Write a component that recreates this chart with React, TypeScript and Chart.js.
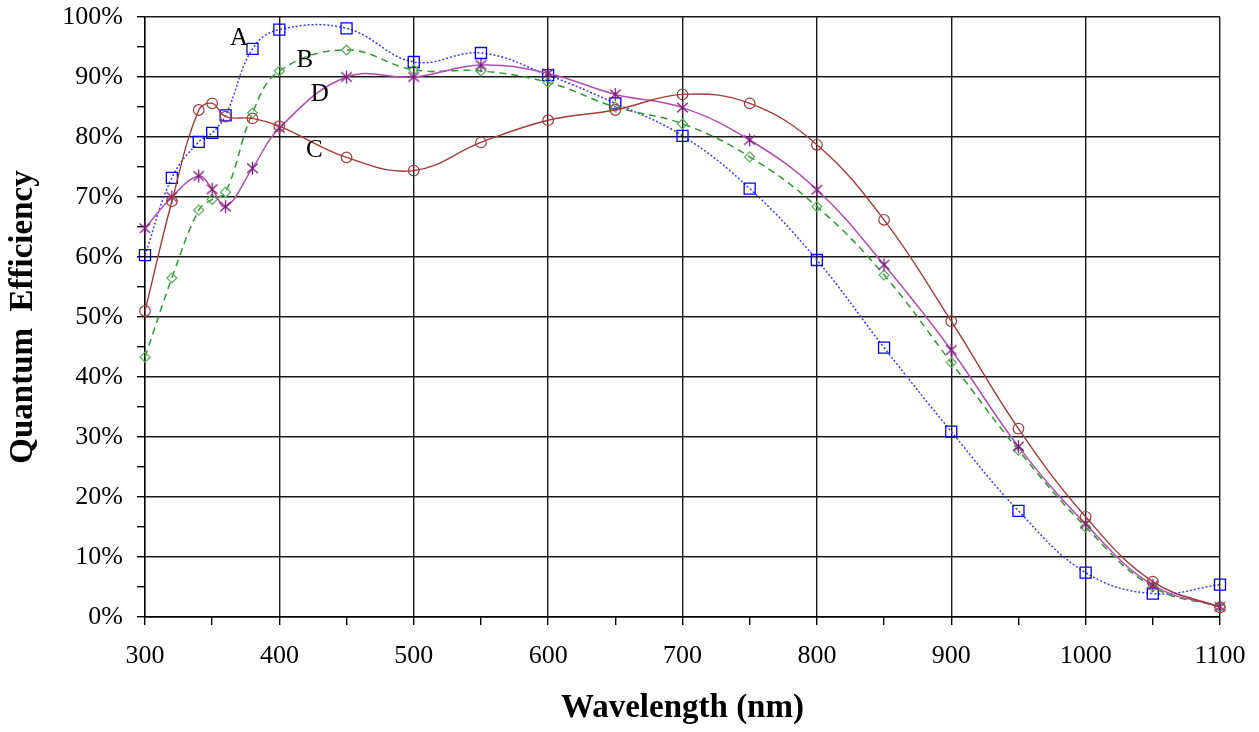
import React, { useEffect, useRef } from 'react';
import { Chart, registerables } from 'chart.js';

Chart.register(...registerables);

const wavelengths = [300, 320, 340, 350, 360, 380, 400, 450, 500, 550, 600, 650, 700, 750, 800, 850, 900, 950, 1000, 1050, 1100];
const seriesA = [60.3, 73.2, 79.2, 80.7, 83.6, 94.7, 97.9, 98.1, 92.5, 94.0, 90.3, 85.6, 80.2, 71.4, 59.5, 44.9, 30.9, 17.7, 7.4, 3.9, 5.4];
const seriesB = [43.3, 56.5, 67.8, 69.6, 70.8, 84.0, 91.0, 94.5, 91.2, 91.0, 89.1, 85.0, 82.2, 76.7, 68.4, 57.0, 42.4, 27.8, 15.0, 5.0, 1.7];
const seriesC = [51.0, 69.3, 84.5, 85.6, 83.4, 83.1, 81.8, 76.6, 74.4, 79.1, 82.8, 84.5, 87.1, 85.6, 78.7, 66.2, 49.3, 31.4, 16.7, 5.9, 1.6];
const seriesD = [64.8, 70.0, 73.5, 71.3, 68.4, 74.8, 81.5, 90.0, 90.0, 92.0, 90.6, 87.1, 84.9, 79.5, 71.2, 58.7, 44.5, 28.4, 15.5, 5.3, 1.7];

const labelNames = ['A', 'B', 'C', 'D'];
const labelX = [370, 419, 426, 430];
const labelY = [96.5, 92.7, 77.7, 87.1];

const xTitle = 'Wavelength (nm)';
const yTitle = 'Quantum  Efficiency';

const toPoints = (ys: number[]) => wavelengths.map((x, i) => ({ x, y: ys[i] }));

function makeAsterisk(color: string): HTMLCanvasElement {
  const c = document.createElement('canvas');
  c.width = 15;
  c.height = 15;
  const g = c.getContext('2d')!;
  g.strokeStyle = color;
  g.lineWidth = 1.3;
  g.beginPath();
  g.moveTo(7.5, 1);
  g.lineTo(7.5, 14);
  g.moveTo(2.2, 2.8);
  g.lineTo(12.8, 12.2);
  g.moveTo(12.8, 2.8);
  g.lineTo(2.2, 12.2);
  g.stroke();
  return c;
}

const curveLabels = {
  id: 'curveLabels',
  afterDatasetsDraw(chart: any) {
    const { ctx, scales } = chart;
    ctx.save();
    ctx.font = '25px "Liberation Serif", serif';
    ctx.fillStyle = '#000';
    ctx.textAlign = 'center';
    ctx.textBaseline = 'middle';
    labelNames.forEach((n, i) => {
      ctx.fillText(n, scales.x.getPixelForValue(labelX[i]), scales.y.getPixelForValue(labelY[i]));
    });
    ctx.restore();
  },
};

export default function App() {
  const ref = useRef<HTMLCanvasElement>(null);
  useEffect(() => {
    if (!ref.current) return;
    const serif = '"Liberation Serif", "Times New Roman", serif';
    const chart = new Chart(ref.current, {
      type: 'line',
      data: {
        datasets: [
          {
            label: 'C',
            data: toPoints(seriesC),
            borderColor: '#a33a3a',
            backgroundColor: 'transparent',
            borderWidth: 1.4,
            pointStyle: 'circle',
            pointRadius: 5.3,
            pointBorderColor: '#a33a3a',
            pointBorderWidth: 1.2,
            tension: 0.4,
            clip: false,
          },
          {
            label: 'D',
            data: toPoints(seriesD),
            borderColor: '#b04fb0',
            backgroundColor: 'transparent',
            borderWidth: 1.5,
            pointStyle: makeAsterisk('#7a1a7a'),
            pointRadius: 6.5,
            tension: 0.4,
            clip: false,
          },
          {
            label: 'B',
            data: toPoints(seriesB),
            borderColor: '#2f9a2f',
            backgroundColor: 'transparent',
            borderWidth: 1.5,
            borderDash: [7, 5],
            pointStyle: 'rectRot',
            pointRadius: 5,
            pointBorderColor: '#55b055',
            pointBorderWidth: 1.2,
            tension: 0.4,
            clip: false,
          },
          {
            label: 'A',
            data: toPoints(seriesA),
            borderColor: '#3a3aff',
            backgroundColor: 'transparent',
            borderWidth: 1.5,
            borderDash: [2, 2],
            pointStyle: 'rect',
            pointRadius: 7.8,
            pointBorderColor: '#0000ff',
            pointBorderWidth: 1.3,
            tension: 0.4,
            clip: false,
          },
        ],
      },
      options: {
        animation: false,
        responsive: false,
        devicePixelRatio: 1,
        layout: { padding: { top: 17, right: 39, left: 0, bottom: 0 } },
        plugins: { legend: { display: false }, tooltip: { enabled: false } },
        scales: {
          x: {
            type: 'linear',
            min: 300,
            max: 1100,
            afterFit: (s: any) => { s.height = 115; s.paddingLeft = 0; s.paddingRight = 0; },
            ticks: {
              stepSize: 50,
              autoSkip: false,
              maxRotation: 0,
              padding: 16,
              color: '#000',
              font: { family: serif, size: 26 },
              callback: (v: any) => (Number(v) % 100 === 0 ? String(v) : ''),
            },
            grid: {
              color: (c: any) => (c.tick && c.tick.value % 100 === 0 ? '#1a1a1a' : 'rgba(0,0,0,0)'),
              lineWidth: 1.4,
              tickColor: '#000',
              tickLength: 8,
            },
            border: { display: true, color: '#000', width: 1.4 },
            title: {
              display: true,
              text: xTitle,
              color: '#000',
              font: { family: serif, size: 33, weight: 'bold' },
              padding: { top: 4, bottom: 4 },
            },
          },
          y: {
            min: 0,
            max: 100,
            afterFit: (s: any) => { s.width = 145; s.paddingTop = 0; s.paddingBottom = 0; },
            ticks: {
              stepSize: 5,
              autoSkip: false,
              padding: 14,
              color: '#000',
              font: { family: serif, size: 26 },
              callback: (v: any) => (Number(v) % 10 === 0 ? v + '%' : ''),
            },
            grid: {
              color: (c: any) => (c.tick && c.tick.value % 10 === 0 ? '#1a1a1a' : 'rgba(0,0,0,0)'),
              lineWidth: 1.4,
              tickColor: '#000',
              tickLength: 8,
            },
            border: { display: true, color: '#000', width: 1.4 },
            title: {
              display: true,
              text: yTitle,
              color: '#000',
              font: { family: serif, size: 33, weight: 'bold' },
              padding: { top: 4, bottom: 4 },
            },
          },
        },
      } as any,
      plugins: [curveLabels],
    });
    return () => chart.destroy();
  }, []);
  return (
    <div style={{ position: 'fixed', left: 0, top: 0, width: 1259, height: 732, background: '#fff' }}>
      <canvas ref={ref} width={1259} height={732} />
    </div>
  );
}
